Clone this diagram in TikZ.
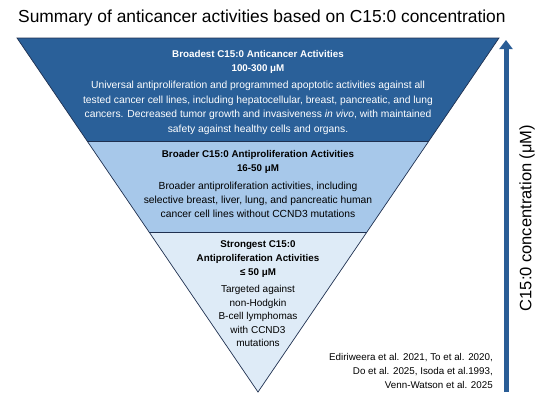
\documentclass[tikz,border=0pt]{standalone}
\usepackage{fontspec}
\setmainfont{Liberation Sans}
\usetikzlibrary{arrows.meta}
\definecolor{bandA}{HTML}{2A6099}
\definecolor{bandB}{HTML}{A7C8EA}
\definecolor{bandC}{HTML}{DEEBF7}
\definecolor{edgec}{HTML}{1F3050}
\definecolor{arrowc}{HTML}{2A5D96}
\tikzset{
  band/.style={draw=edgec, line width=0.7pt, line join=miter},
  btitle/.style={font=\fontsize{9.8}{13.8}\selectfont\bfseries, align=center, inner sep=0pt},
  bbody/.style={font=\fontsize{10.3}{14.5}\selectfont, align=center, inner sep=0pt},
}
\begin{document}
\begin{tikzpicture}[x=1pt,y=-1pt]
\useasboundingbox (0,0) rectangle (550,407);
% bands
\fill[bandA] (17,38) -- (499,38) -- (428.9,141) -- (87.1,141) -- cycle;
\fill[bandB] (87.1,141) -- (428.9,141) -- (366.9,232) -- (149.1,232) -- cycle;
\fill[bandC] (149.1,232) -- (366.9,232) -- (258,392) -- cycle;
\draw[band] (17,38) -- (499,38) -- (258,392) -- cycle;
\draw[edgec, line width=0.5pt] (87.1,141) -- (428.9,141);
\draw[edgec, line width=0.5pt] (149.1,232) -- (366.9,232);
% title
\node[font=\fontsize{17.4}{20}\selectfont, anchor=west, inner sep=0pt] (title) at (18,18) {Summary of anticancer activities based on C15:0 concentration};
% band 1 text
\node[btitle, text=white] (t1) at (258,62) {Broadest C15:0 Anticancer Activities\\100-300 μM};
\node[bbody, text=white] (b1) at (258,108) {Universal antiproliferation and programmed apoptotic activities against all\\tested cancer cell lines, including hepatocellular, breast, pancreatic, and lung\\cancers. Decreased tumor growth and invasiveness \emph{in vivo}, with maintained\\safety against healthy cells and organs.};
% band 2 text
\node[btitle] (t2) at (258,162) {Broader C15:0 Antiproliferation Activities\\16-50 μM};
\node[bbody, font=\fontsize{10.3}{14}\selectfont] (b2) at (258,200) {Broader antiproliferation activities, including\\selective breast, liver, lung, and pancreatic human\\cancer cell lines without CCND3 mutations};
% band 3 text
\node[btitle, font=\fontsize{9.8}{14}\selectfont\bfseries] (t3) at (258,259) {Strongest C15:0\\Antiproliferation Activities\\≤ 50 μM};
\node[bbody, font=\fontsize{10}{13.5}\selectfont] (b3) at (258,316) {Targeted against\\non-Hodgkin\\B-cell lymphomas\\with CCND3\\mutations};
% citations
\node[font=\fontsize{9.8}{14}\selectfont, align=right, anchor=east, inner sep=0pt] (cite) at (493,371) {Ediriweera et al. 2021, To et al. 2020,\\Do et al. 2025, Isoda et al.1993,\\Venn-Watson et al. 2025};
% arrow
\coordinate (abot) at (506,392);
\coordinate (atop) at (506,40);
\draw[arrowc, line width=5pt, -{Triangle[width=13pt,length=9pt]}] (abot) -- (atop);
\node[font=\fontsize{16.5}{18}\selectfont, rotate=90, inner sep=0pt] (alabel) at (527,218) {C15:0 concentration (μM)};
\end{tikzpicture}
\end{document}
